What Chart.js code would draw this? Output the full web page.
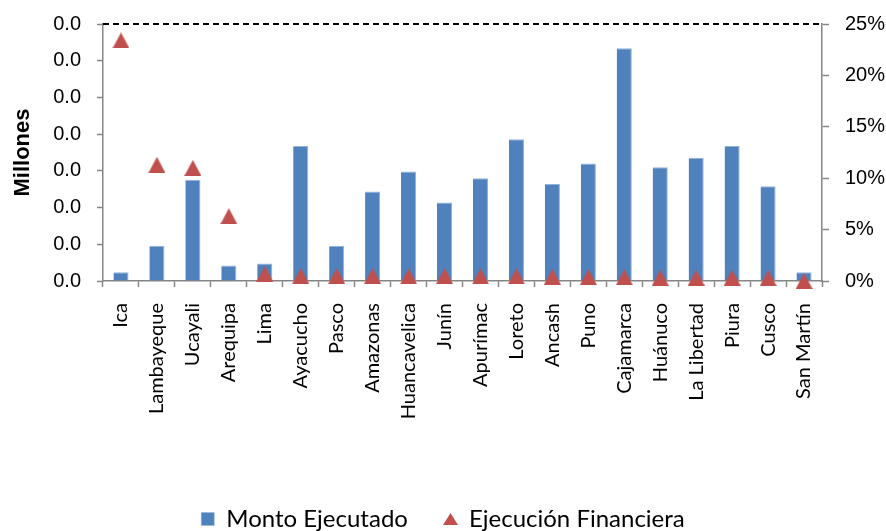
<!DOCTYPE html>
<html>
<head>
<meta charset="utf-8">
<script src="https://cdn.jsdelivr.net/npm/chart.js@4.4.0/dist/chart.umd.min.js"></script>
<style>
  html, body { margin: 0; padding: 0; background: #ffffff; }
  #wrap { width: 886px; height: 531px; position: relative; }
</style>
</head>
<body>
<div id="wrap"><canvas id="grafico"></canvas></div>
<script>
// datos
const regiones = ['Ica', 'Lambayeque', 'Ucayali', 'Arequipa', 'Lima', 'Ayacucho', 'Pasco', 'Amazonas',
    'Huancavelica', 'Junín', 'Apurímac', 'Loreto', 'Ancash', 'Puno', 'Cajamarca', 'Huánuco',
    'La Libertad', 'Piura', 'Cusco', 'San Martín'];

// Monto ejecutado (millones)
const montoEjecutado = [0.0012, 0.0048, 0.0138, 0.0021, 0.0024, 0.0184, 0.0048, 0.0122,
    0.0149, 0.0107, 0.0140, 0.0193, 0.0132, 0.0160, 0.0317, 0.0155,
    0.0168, 0.0184, 0.0129, 0.0012];

// Ejecucion financiera (fraccion)
const ejecucionFinanciera = [0.234, 0.113, 0.110, 0.063, 0.0068, 0.0049, 0.0049, 0.0049,
    0.0046, 0.0049, 0.0045, 0.0045, 0.0042, 0.0039, 0.0037, 0.0032,
    0.0032, 0.0032, 0.0029, 0.0];

const colorMonto = '#4F81BD';
const colorEjecucion = '#C0504D';
const colorEje = '#868686';

// triangulo centrado en su caja (como Excel)
function makeTriangle(w, h){
    let c = document.createElement('canvas');
    c.width = w;
    c.height = h;
    let g = c.getContext('2d');
    g.fillStyle = colorEjecucion;
    g.beginPath();
    g.moveTo(w/2, 0);
    g.lineTo(w, h);
    g.lineTo(0, h);
    g.closePath();
    g.fill();
    return c;
}
const trianguloPunto = makeTriangle(17, 16);
const trianguloLeyenda = makeTriangle(15, 12);

// linea punteada superior
const topDashPlugin = {
    id: 'topDash',
    afterDraw(chart){
        const a = chart.chartArea;
        const ctx = chart.ctx;
        ctx.save();
        ctx.strokeStyle = '#000000';
        ctx.lineWidth = 2;
        ctx.setLineDash([6, 4]);
        ctx.beginPath();
        ctx.moveTo(a.left, a.top);
        ctx.lineTo(a.right, a.top);
        ctx.stroke();
        ctx.restore();
    }
};

const ctxGrafico = document.getElementById('grafico');
const grafico = new Chart(ctxGrafico, {
    type: 'bar',
    data: {
        labels: regiones,
        datasets: [
            {
                label: 'Monto Ejecutado',
                data: montoEjecutado,
                backgroundColor: colorMonto,
                borderColor: '#93B3DB',
                borderWidth: {top: 1, right: 1, left: 0, bottom: 0},
                barPercentage: 0.42,
                categoryPercentage: 1.0,
                yAxisID: 'y',
                pointStyle: 'rect',
                order: 1
            },
            {
                type: 'line',
                label: 'Ejecución Financiera',
                data: ejecucionFinanciera,
                showLine: false,
                pointStyle: trianguloPunto,
                backgroundColor: colorEjecucion,
                borderColor: colorEjecucion,
                yAxisID: 'y1',
                clip: false,
                order: 0
            }
        ]
    },
    options: {
        responsive: true,
        maintainAspectRatio: false,
        animation: false,
        layout: {
            padding: {top: 24, left: 0, right: 0, bottom: -10}
        },
        plugins: {
            tooltip: {enabled: false},
            legend: {
                position: 'bottom',
                labels: {
                    usePointStyle: true,
                    boxHeight: 13,
                    pointStyleWidth: 13,
                    padding: 36,
                    color: '#000000',
                    font: {family: 'Lato', size: 24},
                    sort: (a, b) => a.datasetIndex - b.datasetIndex,
                    generateLabels: (chart) => {
                        const items = Chart.defaults.plugins.legend.labels.generateLabels(chart);
                        items.forEach(it => {
                            if(it.datasetIndex === 1){ it.pointStyle = trianguloLeyenda; }
                        });
                        return items;
                    }
                }
            }
        },
        scales: {
            x: {
                offset: true,
                grid: {
                    offset: true,
                    drawOnChartArea: false,
                    drawTicks: true,
                    tickLength: 6,
                    tickColor: colorEje,
                    tickWidth: 1.5
                },
                border: {color: colorEje, width: 1.5},
                ticks: {
                    minRotation: 90,
                    maxRotation: 90,
                    autoSkip: false,
                    padding: 16,
                    color: '#000000',
                    font: {family: 'Lato', size: 20}
                },
                afterFit: (scale) => { scale.height = 190; }
            },
            y: {
                position: 'left',
                min: 0,
                max: 0.035,
                grid: {
                    drawOnChartArea: false,
                    tickLength: 6,
                    tickColor: colorEje,
                    tickWidth: 1.5
                },
                border: {color: colorEje, width: 1.5},
                ticks: {
                    stepSize: 0.005,
                    padding: 16,
                    color: '#000000',
                    font: {family: 'Liberation Sans', size: 20},
                    callback: (v) => Number(v).toFixed(1)
                },
                title: {
                    display: true,
                    text: 'Millones',
                    color: '#000000',
                    font: {family: 'Liberation Sans', size: 22, weight: 'bold'},
                    padding: {top: 10, bottom: 0}
                },
                afterFit: (scale) => {
                    scale.width = 103;
                    scale.paddingTop = 12;
                    scale.paddingBottom = 12;
                }
            },
            y1: {
                position: 'right',
                min: 0,
                max: 0.25,
                grid: {
                    drawOnChartArea: false,
                    tickLength: 7,
                    tickColor: colorEje,
                    tickWidth: 1.5
                },
                border: {color: colorEje, width: 1.5},
                ticks: {
                    stepSize: 0.05,
                    padding: 16,
                    color: '#000000',
                    font: {family: 'Liberation Sans', size: 20},
                    callback: (v) => Math.round(v * 100) + '%'
                },
                afterFit: (scale) => {
                    scale.width = 64;
                    scale.paddingTop = 12;
                    scale.paddingBottom = 12;
                }
            }
        }
    },
    plugins: [topDashPlugin]
});
</script>
</body>
</html>
